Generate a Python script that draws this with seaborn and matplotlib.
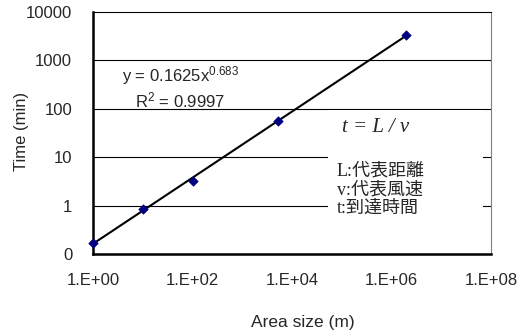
import numpy as np
import pandas as pd
import matplotlib
matplotlib.use("Agg")
import matplotlib.pyplot as plt
import seaborn as sns

area = [1.0, 10.0, 100.0, 5200.0, 2.0e6]
time_min = [0.17, 0.85, 3.2, 56.0, 3350.0]
coef_a = 0.1625
coef_b = 0.683
r2 = 0.9997
xticks = [1e0, 1e2, 1e4, 1e6, 1e8]
xticklabels = ["1.E+00", "1.E+02", "1.E+04", "1.E+06", "1.E+08"]
yticks = [0.1, 1, 10, 100, 1000, 10000]
yticklabels = ["0", "1", "10", "100", "1000", "10000"]
note_lines = ["L:代表距離", "v:代表風速", "t:到達時間"]

sns.set_style("white")
plt.rcParams['font.family'] = ['Liberation Sans', 'Noto Sans CJK JP']
plt.rcParams['mathtext.fontset'] = 'custom'
plt.rcParams['mathtext.rm'] = 'Liberation Sans'
plt.rcParams['mathtext.it'] = 'Liberation Sans'

W, H = 528, 336
fig = plt.figure(figsize=(W / 100, H / 100), dpi=100)
ax = fig.add_axes([93 / W, 1 - 254 / H, (491 - 93) / W, (254 - 12) / H])

df = pd.DataFrame({"area": area, "time": time_min})
xs = np.logspace(0, np.log10(max(area)), 50)
fit = pd.DataFrame({"area": xs, "time": coef_a * xs ** coef_b})

ax.set_xscale("log")
ax.set_yscale("log")
ax.set_xlim(1e0, 1e8)
ax.set_ylim(0.1, 10000)

for y in yticks[1:-1]:
    ax.axhline(y, color="black", lw=0.8, zorder=0)

sns.lineplot(data=fit, x="area", y="time", color="black", lw=1.5, ax=ax, zorder=3)
sns.scatterplot(data=df, x="area", y="time", marker="D", color="#000080",
                s=24, edgecolor="#000080", ax=ax, zorder=4, clip_on=False)

ax.set_xticks(xticks)
ax.set_xticklabels(xticklabels, fontsize=12)
ax.set_yticks(yticks)
ax.set_yticklabels(yticklabels, fontsize=12)
ax.minorticks_off()
ax.tick_params(axis="x", direction="in", length=4, width=0.8, pad=14)
ax.tick_params(axis="y", direction="out", length=2, width=0.8, pad=13)
ax.set_xlabel("Area size (m)", fontsize=12.5)
ax.set_ylabel("Time (min)", fontsize=12)
ax.xaxis.set_label_coords((303 - 93) / 398, (254 - 315) / 242)
ax.yaxis.set_label_coords((29 - 93) / 398, (254 - 131) / 242)

for side in ["left", "bottom"]:
    ax.spines[side].set_color("black")
    ax.spines[side].set_linewidth(1.8)
ax.spines["top"].set_color("black")
ax.spines["top"].set_linewidth(0.8)
ax.spines["right"].set_color("#808080")
ax.spines["right"].set_linewidth(0.8)

tf = fig.transFigure
ax.text(122 / W, 1 - 76 / H, r"y = 0.1625x$^{0.683}$", transform=tf,
        fontsize=12, ha="left", va="center", zorder=5)
ax.text(135 / W, 1 - 100 / H, r"R$^{2}$ = 0.9997", transform=tf,
        fontsize=12, ha="left", va="center", zorder=5)

box = plt.Rectangle((328 / W, 1 - 232 / H), (483 - 328) / W, (232 - 109.5) / H,
                    transform=tf, facecolor="white", edgecolor="none",
                    zorder=6, clip_on=False)
ax.add_patch(box)
ax.text(342 / W, 1 - 127 / H, "t = L / v", transform=tf, fontsize=15,
        family=["Liberation Serif"], style="italic", ha="left", va="center", zorder=7)
for i, line in enumerate(note_lines):
    ax.text(337 / W, 1 - (171 + 18.5 * i) / H, line, transform=tf, fontsize=13,
            family=["Liberation Serif", "Noto Sans CJK JP"], ha="left",
            va="center", zorder=7)

fig.savefig("out.png", dpi=100)
